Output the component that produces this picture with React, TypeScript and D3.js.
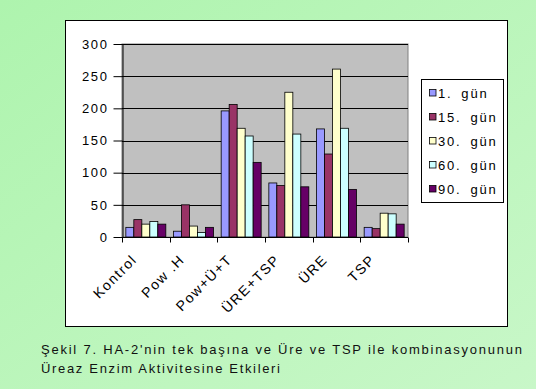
import React, { useEffect, useRef } from 'react';
import * as d3 from 'd3';

const categories = ['Kontrol', 'Pow .H', 'Pow+Ü+T', 'ÜRE+TSP', 'ÜRE', 'TSP'];
const seriesNames = ['1. gün', '15. gün', '30. gün', '60. gün', '90. gün'];
const seriesColors = ['#9999FF', '#993366', '#FFFFCC', '#CCFFFF', '#660066'];

const gun1 = [15, 9, 196, 84, 168, 15];
const gun15 = [27, 50, 206, 80, 129, 13];
const gun30 = [20, 17, 169, 225, 261, 37];
const gun60 = [24, 7, 157, 160, 169, 36];
const gun90 = [20, 15, 116, 78, 74, 20];
const seriesValues = [gun1, gun15, gun30, gun60, gun90];

const yTicks = [0, 50, 100, 150, 200, 250, 300];
const captionLines = [
  "Şekil 7. HA-2'nin tek başına ve Üre ve TSP ile kombinasyonunun",
  'Üreaz Enzim Aktivitesine Etkileri',
];
const captionWidths = [481, 239];

const W = 536;
const H = 389;
const FONT = '"Liberation Sans", Arial, sans-serif';

const App: React.FC = () => {
  const ref = useRef<SVGSVGElement>(null);

  useEffect(() => {
    const svg = d3.select(ref.current);
    svg.selectAll('*').remove();

    // green slide background
    const defs = svg.append('defs');
    const grad = defs.append('linearGradient')
      .attr('id', 'bg')
      .attr('x1', '0').attr('y1', '0').attr('x2', '1').attr('y2', '1');
    grad.append('stop').attr('offset', '0%').attr('stop-color', '#aef4ae');
    grad.append('stop').attr('offset', '100%').attr('stop-color', '#c8f7c8');
    svg.append('rect').attr('width', W).attr('height', H).attr('fill', 'url(#bg)');

    // white chart frame
    svg.append('rect')
      .attr('x', 65.5).attr('y', 20.5).attr('width', 442).attr('height', 306)
      .attr('fill', '#ffffff').attr('stroke', '#000').attr('stroke-width', 1);

    const plot = { left: 122, right: 408, top: 44, bottom: 237 };

    const x = d3.scaleBand<string>()
      .domain(categories)
      .range([plot.left, plot.right])
      .paddingInner(0)
      .paddingOuter(0);

    const y = d3.scaleLinear().domain([0, 300]).range([plot.bottom, plot.top]);

    const inner = d3.scaleBand<number>()
      .domain(d3.range(seriesNames.length))
      .range([0, x.bandwidth()])
      .paddingOuter(0.48)
      .paddingInner(0);

    // plot area
    svg.append('rect')
      .attr('x', plot.left).attr('y', plot.top)
      .attr('width', plot.right - plot.left).attr('height', plot.bottom - plot.top)
      .attr('fill', '#c0c0c0').attr('stroke', '#808080').attr('stroke-width', 1);

    // gridlines
    svg.append('g')
      .selectAll('line')
      .data(yTicks.filter(t => t > 0))
      .enter()
      .append('line')
      .attr('x1', plot.left).attr('x2', plot.right)
      .attr('y1', d => Math.round(y(d)) + 0.5).attr('y2', d => Math.round(y(d)) + 0.5)
      .attr('stroke', '#000').attr('stroke-width', 1);

    // bars
    const groups = svg.append('g')
      .selectAll('g')
      .data(seriesValues)
      .enter()
      .append('g')
      .attr('fill', (_, i) => seriesColors[i]);

    groups.each(function (vals, si) {
      d3.select(this)
        .selectAll('rect')
        .data(vals)
        .enter()
        .append('rect')
        .attr('x', (_, ci) => (x(categories[ci]) ?? 0) + (inner(si) ?? 0))
        .attr('width', inner.bandwidth())
        .attr('y', d => y(d))
        .attr('height', d => y(0) - y(d))
        .attr('stroke', '#000')
        .attr('stroke-width', 0.8);
    });

    // y axis
    const yAxis = svg.append('g')
      .attr('transform', `translate(${plot.left + 0.5},0)`)
      .call(d3.axisLeft(y).tickValues(yTicks).tickSize(9).tickPadding(5).tickSizeOuter(0));
    yAxis.select('.domain').attr('stroke', '#000');
    yAxis.selectAll('text')
      .style('font-family', FONT).style('font-size', '13px')
      .style('letter-spacing', '1.6px')
      .attr('fill', '#000');

    // x axis
    const xAxis = svg.append('g')
      .attr('transform', `translate(0,${plot.bottom + 0.5})`);
    xAxis.append('line')
      .attr('x1', plot.left).attr('x2', plot.right)
      .attr('stroke', '#000');
    xAxis.selectAll('line.tick')
      .data([...categories.map(c => x(c) ?? 0), plot.right])
      .enter()
      .append('line')
      .attr('class', 'tick')
      .attr('x1', d => Math.round(d) + 0.5).attr('x2', d => Math.round(d) + 0.5)
      .attr('y1', 0).attr('y2', 5)
      .attr('stroke', '#000');
    xAxis.selectAll('text')
      .data(categories)
      .enter()
      .append('text')
      .attr('transform', d => `translate(${(x(d) ?? 0) + x.bandwidth() / 2 - 8},${23}) rotate(-45)`)
      .attr('text-anchor', 'end')
      .style('font-family', FONT)
      .style('font-size', '14px')
      .style('letter-spacing', '1.5px')
      .text(d => d);

    // legend
    const legend = svg.append('g').attr('transform', 'translate(421,79)');
    legend.append('rect')
      .attr('x', 0.5).attr('y', 0.5).attr('width', 82).attr('height', 123)
      .attr('fill', '#fff').attr('stroke', '#000');
    const items = legend.selectAll('g.item')
      .data(seriesNames)
      .enter()
      .append('g')
      .attr('class', 'item')
      .attr('transform', (_, i) => `translate(0,${14 + i * 24})`);
    items.append('rect')
      .attr('x', 8.5).attr('y', -3.5).attr('width', 6.5).attr('height', 6.5)
      .attr('fill', (_, i) => seriesColors[i])
      .attr('stroke', '#000').attr('stroke-width', 0.8);
    items.append('text')
      .attr('x', 17).attr('y', 4.5)
      .style('font-family', FONT).style('font-size', '13px')
      .style('letter-spacing', '1.8px')
      .style('word-spacing', '3.5px')
      .text(d => d);

    // caption
    svg.append('g')
      .selectAll('text')
      .data(captionLines)
      .enter()
      .append('text')
      .attr('x', 41)
      .attr('y', (_, i) => 354 + i * 19)
      .attr('textLength', (_, i) => captionWidths[i])
      .attr('lengthAdjust', 'spacing')
      .style('font-family', FONT)
      .style('font-size', '13px')
      .attr('fill', '#111')
      .text(d => d);
  }, []);

  return (
    <svg
      ref={ref}
      width={W}
      height={H}
      style={{ position: 'absolute', left: 0, top: 0, display: 'block' }}
    />
  );
};

export default App;
